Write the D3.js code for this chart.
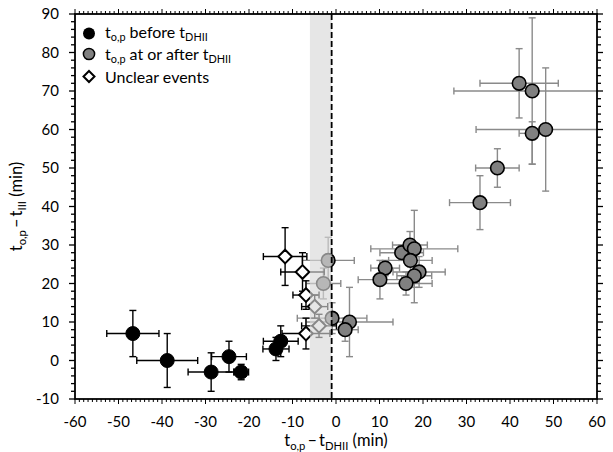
<!DOCTYPE html>
<html><head><meta charset="utf-8">
<script src="https://cdn.jsdelivr.net/npm/d3@7/dist/d3.min.js"></script>
<style>body{margin:0;background:#fff}svg{display:block}text{font-family:Lato,"Open Sans",sans-serif;fill:#000}</style>
</head><body><svg id="c" width="613" height="452"></svg>
<script>
// [x, y, x-, x+, y-, y+]
const beforeDHII = [
  [-46.7, 7, 6, 6, 6, 6],
  [-38.8, 0, 7, 7, 7, 7],
  [-28.7, -3, 5.3, 5.3, 5, 5],
  [-24.6, 1, 4, 4, 4, 4],
  [-21.8, -3, 1.7, 1.7, 2, 2],
  [-13.8, 3, 3, 3, 3, 3],
  [-12.7, 5, 4, 4, 4, 4]
];
const afterDHII = [
  [-1.8, 26, 6, 6, 6, 6],
  [-2.9, 20, 4, 4, 4, 4],
  [-0.9, 11, 8, 8, 4, 4],
  [3.1, 10, 10, 10, 9, 9],
  [2.1, 8, 3, 3, 3, 3],
  [11.3, 24, 3.3, 3.3, 2, 2],
  [10.1, 21, 5, 5, 5, 5],
  [15.1, 28, 5, 5, 2, 2],
  [17, 30, 4, 4, 3.5, 3.5],
  [18, 29, 10, 10, 10, 10],
  [17.1, 26, 5, 5, 3, 3],
  [19.1, 23, 6, 6, 4, 4],
  [18, 22, 4, 4, 7, 7],
  [16.1, 20, 6, 6, 3, 3],
  [33.1, 41, 7, 7, 7, 7],
  [37.1, 50, 5, 5, 5, 5],
  [42.1, 72, 9, 9, 9, 9],
  [45.1, 70, 18, 18, 19, 19],
  [45.1, 59, 3, 3, 8, 3],
  [48.2, 60, 16, 16, 16, 16]
];
const unclear = [
  [-11.7, 27, 5, 5, 7.5, 7.5],
  [-7.7, 23, 5, 5, 5, 5],
  [-6.9, 17, 3, 3, 3.7, 3.7],
  [-4.9, 14, 3, 3, 3, 3],
  [-3.9, 9, 4, 4, 3, 3],
  [-6.9, 7, 5.5, 5.5, 4, 4]
];
const band = [-6, -1];
const tDHII = -1;
const xTicks = d3.range(-60, 61, 10);
const yTicks = d3.range(-10, 91, 10);

const svg = d3.select('#c');
const L = 75, R = 597, T = 14, B = 399;
const x = d3.scaleLinear().domain([-60, 60]).range([L, R]);
const y = d3.scaleLinear().domain([-10, 90]).range([B, T]);

const defs = svg.append('defs');
defs.append('clipPath').attr('id', 'clip').append('rect')
  .attr('x', L).attr('y', T).attr('width', R - L).attr('height', B - T);

const plot = svg.append('g').attr('clip-path', 'url(#clip)');

function drawErr(data, color) {
  const g = plot.append('g').attr('stroke', color).attr('stroke-width', 1.4).attr('fill', 'none');
  const cap = 3.5;
  data.forEach(d => {
    const cx = x(d[0]), cy = y(d[1]);
    const x1 = x(d[0] - d[2]), x2 = x(d[0] + d[3]);
    const y1 = y(d[1] - d[4]), y2 = y(d[1] + d[5]);
    g.append('line').attr('x1', x1).attr('x2', x2).attr('y1', cy).attr('y2', cy);
    g.append('line').attr('x1', x1).attr('x2', x1).attr('y1', cy - cap).attr('y2', cy + cap);
    g.append('line').attr('x1', x2).attr('x2', x2).attr('y1', cy - cap).attr('y2', cy + cap);
    g.append('line').attr('x1', cx).attr('x2', cx).attr('y1', y1).attr('y2', y2);
    g.append('line').attr('x1', cx - cap).attr('x2', cx + cap).attr('y1', y1).attr('y2', y1);
    g.append('line').attr('x1', cx - cap).attr('x2', cx + cap).attr('y1', y2).attr('y2', y2);
  });
}

drawErr(beforeDHII, '#000');
drawErr(afterDHII, '#8a8a8a');
drawErr(unclear, '#000');

plot.append('g').selectAll('circle').data(beforeDHII).join('circle')
  .attr('cx', d => x(d[0])).attr('cy', d => y(d[1])).attr('r', 7)
  .attr('fill', '#000').attr('stroke', '#000').attr('stroke-width', 1);
plot.append('g').selectAll('circle').data(afterDHII).join('circle')
  .attr('cx', d => x(d[0])).attr('cy', d => y(d[1])).attr('r', 6.8)
  .attr('fill', '#808080').attr('stroke', '#000').attr('stroke-width', 1.6);
const dia = 6.8;
plot.append('g').selectAll('path').data(unclear).join('path')
  .attr('d', d => {
    const cx = x(d[0]), cy = y(d[1]);
    return `M${cx},${cy - dia}L${cx + dia},${cy}L${cx},${cy + dia}L${cx - dia},${cy}Z`;
  })
  .attr('fill', '#fff').attr('stroke', '#000').attr('stroke-width', 2);

// band overlay
plot.append('rect').attr('x', x(band[0])).attr('width', x(band[1]) - x(band[0]))
  .attr('y', T).attr('height', B - T).attr('fill', 'rgb(215,215,215)').attr('fill-opacity', 0.63);
plot.append('line').attr('x1', x(tDHII)).attr('x2', x(tDHII)).attr('y1', T).attr('y2', B)
  .attr('stroke', '#000').attr('stroke-width', 1.8).attr('stroke-dasharray', '6,3');

// axes frame and ticks
const ax = svg.append('g').attr('stroke', '#000');
ax.append('rect').attr('x', L).attr('y', T).attr('width', R - L).attr('height', B - T)
  .attr('fill', 'none').attr('stroke-width', 1.8);
const xMinor = d3.range(-60, 61, 1);
const yMinor = d3.range(-10, 91, 2);
xMinor.forEach(v => {
  const len = v % 10 === 0 ? 5 : 3;
  ax.append('line').attr('x1', x(v)).attr('x2', x(v)).attr('y1', B).attr('y2', B + len).attr('stroke-width', 1);
  ax.append('line').attr('x1', x(v)).attr('x2', x(v)).attr('y1', T).attr('y2', T - len).attr('stroke-width', 1);
});
yMinor.forEach(v => {
  const len = v % 10 === 0 ? 6 : 4;
  ax.append('line').attr('y1', y(v)).attr('y2', y(v)).attr('x1', L).attr('x2', L - len).attr('stroke-width', 1.3);
  ax.append('line').attr('y1', y(v)).attr('y2', y(v)).attr('x1', R).attr('x2', R + len).attr('stroke-width', 1.3);
});

const lab = svg.append('g').attr('font-size', 15);
lab.selectAll('.xt').data(xTicks).join('text').attr('class', 'xt')
  .attr('x', d => x(d)).attr('y', 427).attr('text-anchor', 'middle').text(d => d);
lab.selectAll('.yt').data(yTicks).join('text').attr('class', 'yt')
  .attr('x', 59).attr('y', d => y(d) + 5).attr('text-anchor', 'end').text(d => d);

function richText(sel, parts, dy) {
  dy = dy || 4;
  parts.forEach(p => {
    const t = sel.append('tspan').text(p[0]);
    if (p[1] === 'sub') t.attr('font-size', '68%').attr('dy', dy);
    if (p[1] === 'up') t.attr('dy', -dy);
  });
}

const xl = svg.append('text').attr('x', 336).attr('y', 446).attr('text-anchor', 'middle').attr('font-size', 16.5);
richText(xl, [['t'], ['o,p', 'sub'], ['\u2009\u2013\u2009t', 'up'], ['DHII', 'sub'], [' (min)', 'up']]);
const yl = svg.append('text').attr('transform', `translate(22,${(T + B) / 2}) rotate(-90)`)
  .attr('text-anchor', 'middle').attr('font-size', 16.5);
richText(yl, [['t'], ['o,p', 'sub'], ['\u2009\u2013\u2009t', 'up'], ['III', 'sub'], [' (min)', 'up']]);

// legend
const lg = svg.append('g');
lg.append('circle').attr('cx', 89).attr('cy', 33.5).attr('r', 6).attr('fill', '#000');
lg.append('circle').attr('cx', 89).attr('cy', 54).attr('r', 5.6).attr('fill', '#808080').attr('stroke', '#000').attr('stroke-width', 1.5);
lg.append('path').attr('d', 'M89,71L94.5,76.5L89,82L83.5,76.5Z').attr('fill', '#fff').attr('stroke', '#000').attr('stroke-width', 2);
const l1 = lg.append('text').attr('x', 105).attr('y', 38).attr('font-size', 16);
richText(l1, [['t'], ['o,p', 'sub'], [' before t', 'up'], ['DHII', 'sub']], 3);
const l2 = lg.append('text').attr('x', 105).attr('y', 60).attr('font-size', 16);
richText(l2, [['t'], ['o,p', 'sub'], [' at or after t', 'up'], ['DHII', 'sub']], 3);
lg.append('text').attr('x', 105).attr('y', 82.5).attr('font-size', 16).text('Unclear events');
</script></body></html>
